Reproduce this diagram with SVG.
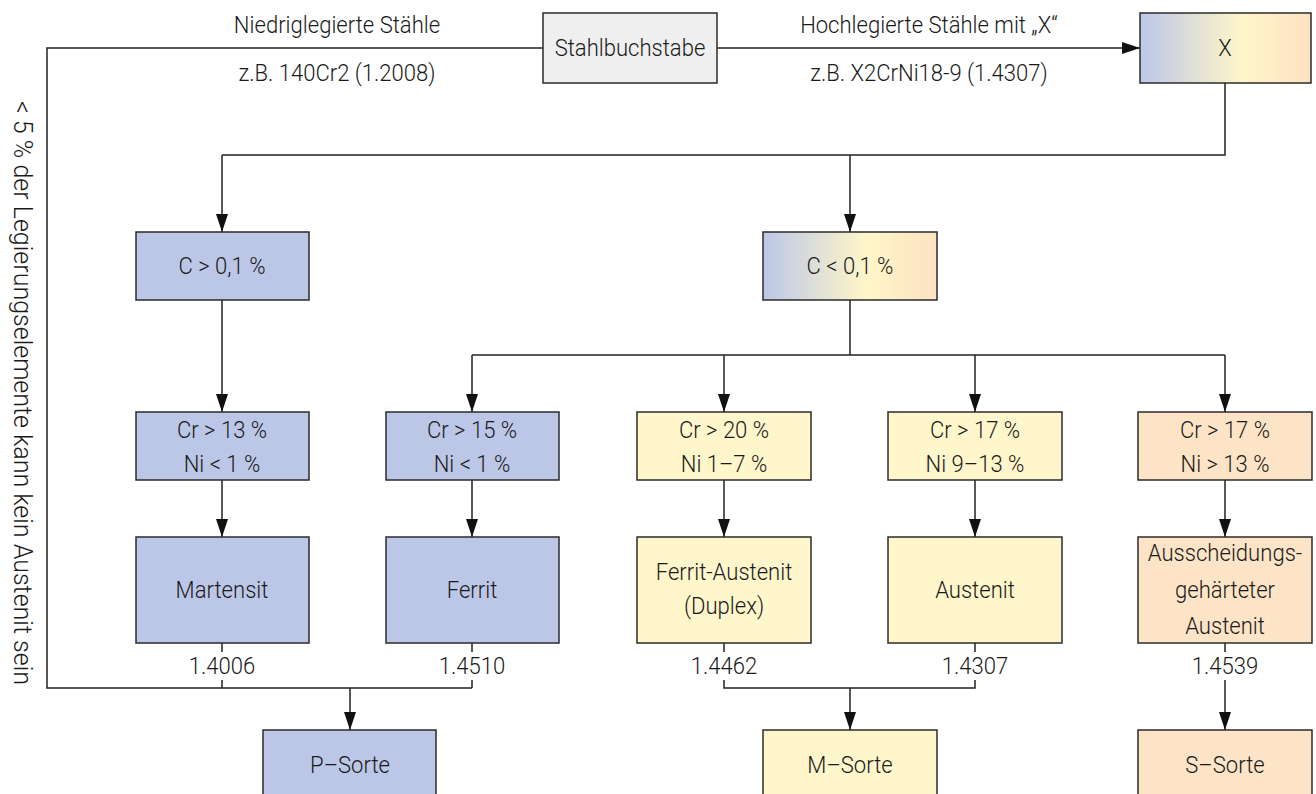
<svg xmlns="http://www.w3.org/2000/svg" width="1316" height="794" viewBox="0 0 1316 794">
  <style>
    text { font-family: Roboto, "Liberation Sans", sans-serif; font-weight: 300; font-size: 24px; fill: #1a1a1a; text-anchor: middle; dominant-baseline: central; transform-box: fill-box; transform-origin: center; transform: scaleX(0.92); }
    text.side { font-size: 25px; transform: rotate(90deg); }
    .box { stroke: #2b2b2b; stroke-width: 1.5; }
    .blue { fill: #bcc7e7; }
    .yellow { fill: #fff6cb; }
    .orange { fill: #fde4c6; }
    .grey { fill: #efefef; }
    .line { fill: none; stroke: #222; stroke-width: 1.5; }
    .arrow { fill: none; stroke: #222; stroke-width: 1.5; marker-end: url(#head); }
  </style>
  <defs>
    <marker id="head" markerUnits="userSpaceOnUse" markerWidth="18" markerHeight="12" refX="18" refY="6" viewBox="0 0 18 12" orient="auto">
      <path d="M0,0 L18,6 L0,12 Z" fill="#111"/>
    </marker>
    <linearGradient id="mix" x1="0" y1="0" x2="1" y2="0">
      <stop offset="0" stop-color="#bcc7e7"/>
      <stop offset="0.6" stop-color="#fff6c9"/>
      <stop offset="1" stop-color="#fde2c2"/>
    </linearGradient>
  </defs>
  <rect width="1316" height="794" fill="#ffffff"/>

  <g id="connectors">
    <!-- low-alloy branch back down to P grade -->
    <polyline class="line" points="543,48 47,48 47,688 472,688"/>
    <text x="337" y="25">Niedriglegierte Stähle</text>
    <text x="337" y="73">z.B. 140Cr2 (1.2008)</text>
    <!-- high-alloy branch -->
    <line class="arrow" x1="717" y1="48" x2="1140" y2="48"/>
    <text x="929" y="25">Hochlegierte Stähle mit „X“</text>
    <text x="929" y="73">z.B. X2CrNi18-9 (1.4307)</text>
    <!-- X to carbon split -->
    <polyline class="line" points="1225,83 1225,155 222,155"/>
    <line class="arrow" x1="222" y1="155" x2="222" y2="232"/>
    <line class="arrow" x1="850" y1="155" x2="850" y2="232"/>
    <!-- C > 0.1 -->
    <line class="arrow" x1="222" y1="300" x2="222" y2="412"/>
    <!-- C < 0.1 split -->
    <polyline class="line" points="850,300 850,355"/>
    <polyline class="line" points="472,355 1225,355"/>
    <line class="arrow" x1="472" y1="355" x2="472" y2="412"/>
    <line class="arrow" x1="724" y1="355" x2="724" y2="412"/>
    <line class="arrow" x1="975" y1="355" x2="975" y2="412"/>
    <line class="arrow" x1="1225" y1="355" x2="1225" y2="412"/>
    <!-- composition to structure -->
    <line class="arrow" x1="222" y1="480" x2="222" y2="537"/>
    <line class="arrow" x1="472" y1="480" x2="472" y2="537"/>
    <line class="arrow" x1="724" y1="480" x2="724" y2="537"/>
    <line class="arrow" x1="975" y1="480" x2="975" y2="537"/>
    <line class="arrow" x1="1225" y1="480" x2="1225" y2="537"/>
    <!-- structure to grade -->
    <line class="line" x1="222" y1="643" x2="222" y2="652"/>
    <line class="line" x1="222" y1="680" x2="222" y2="688"/>
    <line class="line" x1="472" y1="643" x2="472" y2="652"/>
    <line class="line" x1="472" y1="680" x2="472" y2="688"/>
    <line class="arrow" x1="350" y1="688" x2="350" y2="730"/>
    <line class="line" x1="724" y1="643" x2="724" y2="652"/>
    <line class="line" x1="975" y1="643" x2="975" y2="652"/>
    <polyline class="line" points="724,680 724,688 975,688 975,680"/>
    <line class="arrow" x1="850" y1="688" x2="850" y2="730"/>
    <line class="line" x1="1225" y1="643" x2="1225" y2="652"/>
    <line class="arrow" x1="1225" y1="680" x2="1225" y2="730"/>
    <!-- material numbers -->
    <text x="222" y="666">1.4006</text>
    <text x="472" y="666">1.4510</text>
    <text x="724" y="666">1.4462</text>
    <text x="975" y="666">1.4307</text>
    <text x="1225" y="666">1.4539</text>
    <!-- side note -->
    <text class="side" x="22" y="393">&lt; 5 % der Legierungselemente kann kein Austenit sein</text>
  </g>

  <g id="stahlbuchstabe">
    <rect class="box grey" x="543" y="13" width="174" height="70"/>
    <text x="630" y="48">Stahlbuchstabe</text>
  </g>
  <g id="x">
    <rect class="box" fill="url(#mix)" x="1140" y="13" width="171" height="70"/>
    <text x="1225" y="48">X</text>
  </g>
  <g id="c-gt">
    <rect class="box blue" x="136" y="232" width="173" height="68"/>
    <text x="222" y="266">C &gt; 0,1 %</text>
  </g>
  <g id="c-lt">
    <rect class="box" fill="url(#mix)" x="763" y="232" width="174" height="68"/>
    <text x="850" y="266">C &lt; 0,1 %</text>
  </g>

  <g id="cr13">
    <rect class="box blue" x="136" y="412" width="173" height="68"/>
    <text x="222" y="430">Cr &gt; 13 %</text>
    <text x="222" y="464">Ni &lt; 1 %</text>
  </g>
  <g id="cr15">
    <rect class="box blue" x="386" y="412" width="173" height="68"/>
    <text x="472" y="430">Cr &gt; 15 %</text>
    <text x="472" y="464">Ni &lt; 1 %</text>
  </g>
  <g id="cr20">
    <rect class="box yellow" x="637" y="412" width="174" height="68"/>
    <text x="724" y="430">Cr &gt; 20 %</text>
    <text x="724" y="464">Ni 1–7 %</text>
  </g>
  <g id="cr17-ni9">
    <rect class="box yellow" x="888" y="412" width="174" height="68"/>
    <text x="975" y="430">Cr &gt; 17 %</text>
    <text x="975" y="464">Ni 9–13 %</text>
  </g>
  <g id="cr17-ni13">
    <rect class="box orange" x="1138" y="412" width="174" height="68"/>
    <text x="1225" y="430">Cr &gt; 17 %</text>
    <text x="1225" y="464">Ni &gt; 13 %</text>
  </g>

  <g id="martensit">
    <rect class="box blue" x="136" y="537" width="173" height="106"/>
    <text x="222" y="590">Martensit</text>
  </g>
  <g id="ferrit">
    <rect class="box blue" x="386" y="537" width="173" height="106"/>
    <text x="472" y="590">Ferrit</text>
  </g>
  <g id="duplex">
    <rect class="box yellow" x="637" y="537" width="174" height="106"/>
    <text x="724" y="572">Ferrit-Austenit</text>
    <text x="724" y="606">(Duplex)</text>
  </g>
  <g id="austenit">
    <rect class="box yellow" x="888" y="537" width="174" height="106"/>
    <text x="975" y="590">Austenit</text>
  </g>
  <g id="ausscheidung">
    <rect class="box orange" x="1138" y="537" width="174" height="106"/>
    <text x="1225" y="553">Ausscheidungs-</text>
    <text x="1225" y="590">gehärteter</text>
    <text x="1225" y="626">Austenit</text>
  </g>

  <g id="p-sorte">
    <rect class="box blue" x="263" y="730" width="173" height="72"/>
    <text x="350" y="765">P–Sorte</text>
  </g>
  <g id="m-sorte">
    <rect class="box yellow" x="763" y="730" width="174" height="72"/>
    <text x="850" y="765">M–Sorte</text>
  </g>
  <g id="s-sorte">
    <rect class="box orange" x="1138" y="730" width="174" height="72"/>
    <text x="1225" y="765">S–Sorte</text>
  </g>
</svg>
